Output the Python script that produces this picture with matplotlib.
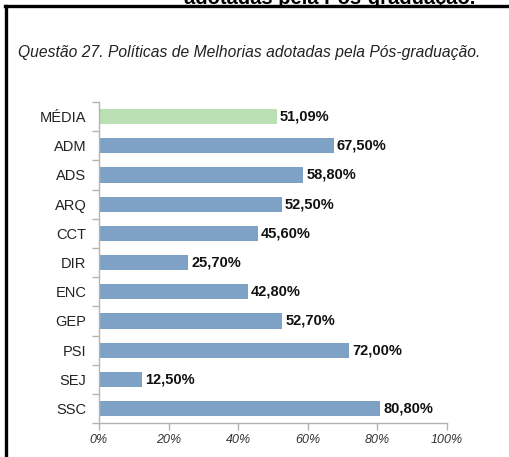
import matplotlib
matplotlib.use("Agg")
import matplotlib.pyplot as plt
from matplotlib.lines import Line2D

plt.rcParams['font.family'] = ['Liberation Sans', 'DejaVu Sans']

cursos = ['MÉDIA', 'ADM', 'ADS', 'ARQ', 'CCT', 'DIR', 'ENC', 'GEP', 'PSI', 'SEJ', 'SSC']
valores = [51.09, 67.50, 58.80, 52.50, 45.60, 25.70, 42.80, 52.70, 72.00, 12.50, 80.80]
rotulos = ['51,09%', '67,50%', '58,80%', '52,50%', '45,60%', '25,70%',
           '42,80%', '52,70%', '72,00%', '12,50%', '80,80%']
xticks = [0, 20, 40, 60, 80, 100]
xtick_labels = ['0%', '20%', '40%', '60%', '80%', '100%']

azul = '#7ea2c5'
verde = '#badfb2'
cinza = '#b3b3b3'

fig = plt.figure(figsize=(5.1, 4.57), dpi=100)
ax = fig.add_axes([0.194, 0.074, 0.682, 0.703])

cores = [verde] + [azul] * (len(cursos) - 1)
pos = list(range(len(cursos)))
ax.barh(pos, valores, height=0.52, color=cores, edgecolor='none')

for p, v, r in zip(pos, valores, rotulos):
    ax.text(v + 0.9, p, r, va='center', ha='left', fontsize=10.5,
            fontweight='bold', color='#111111')

ax.set_xlim(0, 100)
ax.set_ylim(10.5, -0.5)
ax.set_yticks(pos)
ax.set_yticklabels(cursos, fontsize=10.5, color='#222222')
ax.set_yticks([p - 0.5 for p in pos] + [10.5], minor=True)
ax.tick_params(axis='y', which='major', length=0, pad=9)
ax.tick_params(axis='y', which='minor', length=5, color=cinza, width=1)
ax.set_xticks(xticks)
ax.set_xticklabels(xtick_labels, fontsize=9, style='italic', color='#333333')
ax.tick_params(axis='x', length=5, color=cinza, width=1, pad=3)

for s in ['top', 'right']:
    ax.spines[s].set_visible(False)
for s in ['left', 'bottom']:
    ax.spines[s].set_color(cinza)
    ax.spines[s].set_linewidth(1)

# caixa em volta do grafico
topo = 1 - 6 / 457
fig.add_artist(Line2D([6.5 / 510, 6.5 / 510], [0, topo], color='black',
                      linewidth=2.4, transform=fig.transFigure))
fig.add_artist(Line2D([5 / 510, 1], [topo, topo], color='black',
                      linewidth=2.4, transform=fig.transFigure))

fig.text(18 / 510, 1 - 52 / 457, 'Questão 27. Políticas de Melhorias adotadas pela Pós-graduação.',
         fontsize=11.25, style='italic', color='#222222', va='center', ha='left')

# titulo cortado no topo
fig.text(330 / 510, 1 - 4 / 457, 'adotadas pela Pós-graduação.', fontsize=14.5,
         fontweight='bold', color='black', ha='center', va='baseline')

fig.savefig('out.png', dpi=100)
